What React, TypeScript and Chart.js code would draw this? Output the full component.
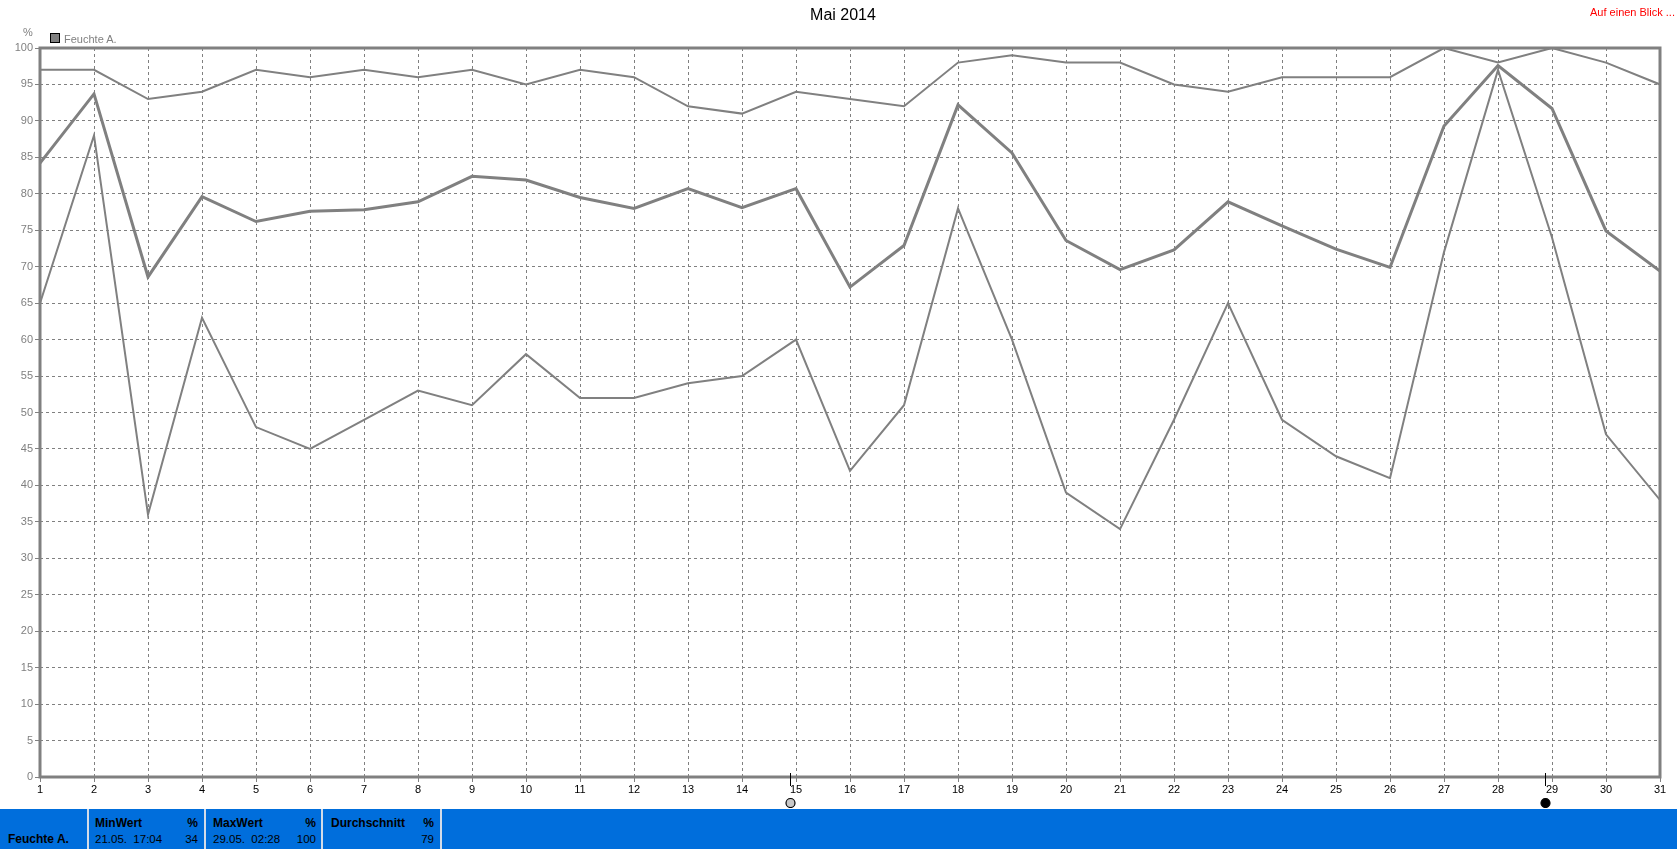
import React, { useEffect, useRef } from "react";
import { Chart, registerables } from "chart.js";

Chart.register(...registerables);

const DAYS = [1, 2, 3, 4, 5, 6, 7, 8, 9, 10, 11, 12, 13, 14, 15, 16, 17, 18, 19, 20, 21, 22, 23, 24, 25, 26, 27, 28, 29, 30, 31];
const MAX_VALUES = [97, 97, 93, 94, 97, 96, 97, 96, 97, 95, 97, 96, 92, 91, 94, 93, 92, 98, 99, 98, 98, 95, 94, 96, 96, 96, 100, 98, 100, 98, 95];
const AVG_VALUES = [84.2, 93.7, 68.6, 79.6, 76.2, 77.6, 77.8, 78.9, 82.4, 81.9, 79.5, 78, 80.7, 78.1, 80.7, 67.2, 72.9, 92.2, 85.6, 73.6, 69.6, 72.3, 78.9, 75.6, 72.4, 69.9, 89.3, 97.6, 91.7, 74.9, 69.4];
const MIN_VALUES = [65, 88, 36, 63, 48, 45, 49, 53, 51, 58, 52, 52, 54, 55, 60, 42, 51, 78, 60, 39, 34, 49, 65, 49, 44, 41, 72, 97, 74, 47, 38];
const MOON_DAYS = [14.88, 28.87];
const MOON_FILLED = [false, true];

const TITLE = "Mai 2014";
const SERIES_NAME = "Feuchte A.";
const UNIT = "%";
const STATS_MIN_LABEL = "MinWert";
const STATS_MIN_TIME = "21.05.  17:04";
const STATS_MIN_VALUE = "34";
const STATS_MAX_LABEL = "MaxWert";
const STATS_MAX_TIME = "29.05.  02:28";
const STATS_MAX_VALUE = "100";
const STATS_AVG_LABEL = "Durchschnitt";
const STATS_AVG_VALUE = "79";

const FONT = "'Liberation Sans', Arial, sans-serif";
const GRAY = "#808080";

const toPoints = (arr: number[]) => DAYS.map((d, i) => ({ x: d, y: arr[i] }));

const framePlugin = {
  id: "frameAndMoon",
  afterDraw(chart: any) {
    const { ctx, chartArea } = chart;
    const { left, right, top, bottom } = chartArea;
    ctx.save();
    ctx.strokeStyle = GRAY;
    ctx.lineWidth = 3;
    ctx.strokeRect(left, top, right - left, bottom - top);
    const xs = chart.scales.x;
    MOON_DAYS.forEach((d, i) => {
      const px = Math.round(xs.getPixelForValue(d)) + 0.5;
      ctx.strokeStyle = "#000";
      ctx.lineWidth = 1;
      ctx.beginPath();
      ctx.moveTo(px, bottom - 4);
      ctx.lineTo(px, bottom + 9);
      ctx.stroke();
      ctx.beginPath();
      ctx.arc(px, bottom + 26, 4.5, 0, Math.PI * 2);
      ctx.fillStyle = MOON_FILLED[i] ? "#000" : "#c8c8c8";
      ctx.fill();
      ctx.lineWidth = 1.2;
      ctx.strokeStyle = "#000";
      ctx.stroke();
    });
    ctx.restore();
  },
};

function StatsPanel() {
  const base: React.CSSProperties = { position: "absolute", fontFamily: FONT, color: "#000", whiteSpace: "pre", lineHeight: "14px" };
  const bold: React.CSSProperties = { ...base, fontWeight: "bold", fontSize: 12 };
  const norm: React.CSSProperties = { ...base, fontSize: 11.5 };
  const sep = (x: number) => (
    <div key={x} style={{ position: "absolute", left: x, top: 0, width: 2, height: 40, background: "#d4dce8" }} />
  );
  return (
    <div style={{ position: "absolute", left: 0, top: 809, width: 1677, height: 40, background: "#006edc" }}>
      {[87, 204, 321, 440].map(sep)}
      <div style={{ ...bold, left: 8, top: 23 }}>{SERIES_NAME}</div>
      <div style={{ ...bold, left: 95, top: 7 }}>{STATS_MIN_LABEL}</div>
      <div style={{ ...bold, right: 1677 - 198, top: 7 }}>{UNIT}</div>
      <div style={{ ...norm, left: 95, top: 23 }}>{STATS_MIN_TIME}</div>
      <div style={{ ...norm, right: 1677 - 198, top: 23 }}>{STATS_MIN_VALUE}</div>
      <div style={{ ...bold, left: 213, top: 7 }}>{STATS_MAX_LABEL}</div>
      <div style={{ ...bold, right: 1677 - 316, top: 7 }}>{UNIT}</div>
      <div style={{ ...norm, left: 213, top: 23 }}>{STATS_MAX_TIME}</div>
      <div style={{ ...norm, right: 1677 - 316, top: 23 }}>{STATS_MAX_VALUE}</div>
      <div style={{ ...bold, left: 331, top: 7 }}>{STATS_AVG_LABEL}</div>
      <div style={{ ...bold, right: 1677 - 434, top: 7 }}>{UNIT}</div>
      <div style={{ ...norm, right: 1677 - 434, top: 23 }}>{STATS_AVG_VALUE}</div>
    </div>
  );
}

export default function App() {
  const canvasRef = useRef<HTMLCanvasElement | null>(null);

  useEffect(() => {
    if (!canvasRef.current) return;
    const lineDs = (data: number[], width: number) => ({
      data: toPoints(data),
      borderColor: GRAY,
      backgroundColor: GRAY,
      borderWidth: width,
      pointRadius: 0,
      tension: 0,
      fill: false,
    });
    const chart = new Chart(canvasRef.current, {
      type: "line",
      data: {
        datasets: [
          { label: SERIES_NAME + " max", ...lineDs(MAX_VALUES, 2) },
          { label: SERIES_NAME + " min", ...lineDs(MIN_VALUES, 2) },
          { label: SERIES_NAME, ...lineDs(AVG_VALUES, 3) },
        ],
      },
      options: {
        responsive: false,
        animation: false,
        layout: { padding: { top: 48, right: 17, left: 0, bottom: 0 } },
        plugins: { legend: { display: false }, tooltip: { enabled: false }, title: { display: false } },
        scales: {
          x: {
            type: "linear",
            min: 1,
            max: 31,
            ticks: { stepSize: 1, autoSkip: false, maxRotation: 0, color: "#000", padding: 1, font: { family: FONT, size: 11 } },
            grid: { color: GRAY, lineWidth: 1, tickLength: 5, tickColor: GRAY },
            border: { display: false, dash: [3, 3] },
            afterFit: (s: any) => { s.height = 31; },
          },
          y: {
            min: 0,
            max: 100,
            ticks: { stepSize: 5, color: GRAY, padding: 2, font: { family: FONT, size: 11 } },
            grid: { color: GRAY, lineWidth: 1, tickLength: 5, tickColor: GRAY },
            border: { display: false, dash: [3, 3] },
            afterFit: (s: any) => { s.width = 40; },
          },
        },
      },
      plugins: [framePlugin],
    } as any);
    return () => chart.destroy();
  }, []);

  return (
    <div style={{ position: "absolute", left: 0, top: 0, width: 1677, height: 849, background: "#fff", overflow: "hidden" }}>
      <canvas ref={canvasRef} width={1677} height={808} style={{ position: "absolute", left: 0, top: 0, display: "block" }} />
      <div style={{ position: "absolute", left: 0, width: 1677, top: 5, textAlign: "center", fontFamily: FONT, fontSize: 16, lineHeight: "20px", color: "#000", paddingLeft: 9, boxSizing: "border-box" }}>{TITLE}</div>
      <div style={{ position: "absolute", right: 2, top: 5, fontFamily: FONT, fontSize: 11, lineHeight: "14px", color: "#ff0000", whiteSpace: "pre" }}>Auf einen Blick ...</div>
      <div style={{ position: "absolute", left: 23, top: 25, fontFamily: FONT, fontSize: 11, lineHeight: "14px", color: GRAY }}>{UNIT}</div>
      <div style={{ position: "absolute", left: 50, top: 33, width: 8, height: 8, background: GRAY, border: "1px solid #000" }} />
      <div style={{ position: "absolute", left: 64, top: 32, fontFamily: FONT, fontSize: 11, lineHeight: "14px", color: GRAY, whiteSpace: "pre" }}>{SERIES_NAME}</div>
      <StatsPanel />
    </div>
  );
}
